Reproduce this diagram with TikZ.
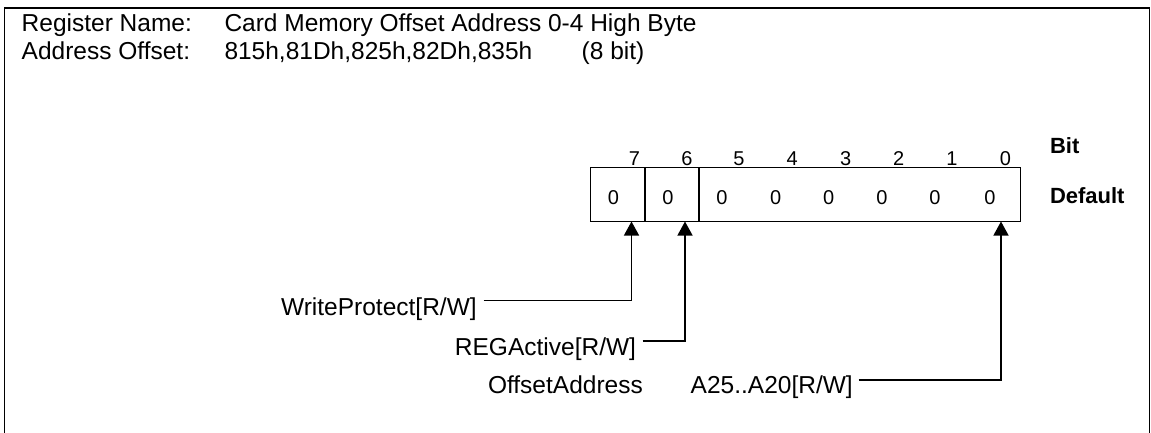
\documentclass[tikz,border=0pt]{standalone}
\usepackage{fontspec}
\setmainfont{Liberation Sans}
\usetikzlibrary{arrows.meta,calc}
\begin{document}
\begin{tikzpicture}[x=1pt,y=-1pt,
  txt/.style={inner sep=0pt, outer sep=0pt, font=\fontsize{24.5}{28}\selectfont},
  num/.style={inner sep=0pt, outer sep=0pt, anchor=base, font=\fontsize{20}{22}\selectfont},
  lbl/.style={inner sep=0pt, outer sep=0pt, anchor=base west, font=\fontsize{22}{24}\selectfont\bfseries},
  cell/.style={draw, line width=1.3pt, inner sep=0pt, outer sep=0pt, minimum height=54.2pt, anchor=north west},
  conn/.style={line width=1.3pt, -{Triangle[length=14pt,width=15pt]}},
  frame/.style={line width=1.3pt}]
\path[use as bounding box] (0,0) rectangle (1151,432);
\draw[frame] (4.5,440) -- (4.5,8) -- (1149.5,8) -- (1149.5,440);
% header
\node[txt, anchor=base west] (rn) at (21.7,31) {Register Name:};
\node[txt, anchor=base west] (rv) at (224.5,31) {Card Memory Offset Address 0-4 High Byte};
\node[txt, anchor=base west] (an) at (21.7,59) {Address Offset:};
\node[txt, anchor=base west] (av) at (224.5,59) {815h,81Dh,825h,82Dh,835h};
\node[txt, anchor=base west] (aw) at (581.7,59) {(8 bit)};
% register cells
\node[cell, minimum width=54.3pt] (c7) at (590.7,167.3) {};
\node[cell, minimum width=54pt] (c6) at (645,167.3) {};
\node[cell, minimum width=321.7pt] (c50) at (699,167.3) {};
% bit numbers
\node[num] (b7) at (634.4,165) {7};
\node[num] (b6) at (686.9,165) {6};
\node[num] (b5) at (739,165) {5};
\node[num] (b4) at (792.2,165) {4};
\node[num] (b3) at (845.8,165) {3};
\node[num] (b2) at (898.6,165) {2};
\node[num] (b1) at (951.8,165) {1};
\node[num] (b0) at (1005.4,165) {0};
% defaults
\node[num] (z7) at (613.5,204) {0};
\node[num] (z6) at (668,204) {0};
\node[num] (z5) at (722,204) {0};
\node[num] (z4) at (775.6,204) {0};
\node[num] (z3) at (828.8,204) {0};
\node[num] (z2) at (882,204) {0};
\node[num] (z1) at (935,204) {0};
\node[num] (z0) at (990,204) {0};
\node[lbl] (bit) at (1050,153.5) {Bit};
\node[lbl] (def) at (1050,203) {Default};
% field labels
\node[txt, anchor=base east] (wp) at (476.7,315) {WriteProtect[R/W]};
\node[txt, anchor=base east] (ra) at (636,355) {REGActive[R/W]};
\node[txt, anchor=base west] (oa) at (488,393.3) {OffsetAddress};
\node[txt, anchor=base west] (a25) at (690.7,393.3) {A25..A20[R/W]};
\coordinate (k7) at (631.5,300.7);
\coordinate (k6) at (685,341);
\coordinate (k0) at (1001,380);
\draw[conn] ($(wp.base east |- k7)+(7,0)$) -- (k7) -- (c7.south -| k7);
\draw[conn] ($(ra.base east |- k6)+(6.5,0)$) -- (k6) -- (c6.south -| k6);
\draw[conn] ($(a25.base east |- k0)+(6,0)$) -- (k0) -- (c50.south -| k0);
\end{tikzpicture}
\end{document}
